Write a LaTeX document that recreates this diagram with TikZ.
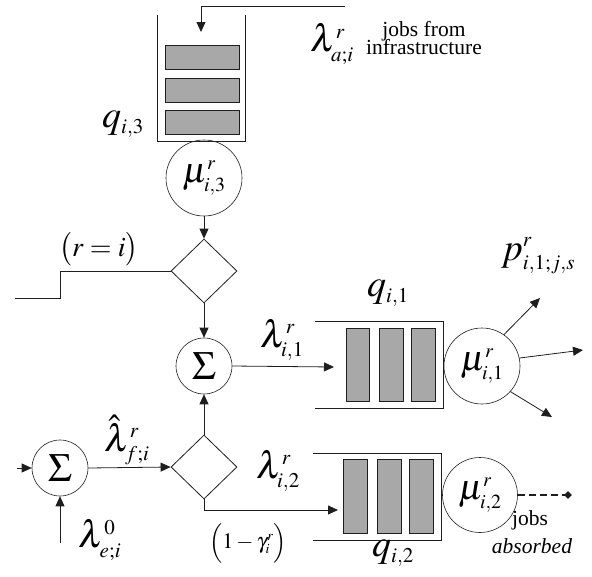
\documentclass[tikz,border=0pt]{standalone}
\usepackage{mathptmx}
\usepackage[no-math]{fontspec}
\setmainfont{Liberation Serif}
\usetikzlibrary{arrows.meta,shapes.geometric}
\DeclareMathSizes{40}{40}{22}{16}
\DeclareMathSizes{38}{38}{21}{15}
\DeclareMathSizes{36}{36}{20}{14}
\DeclareMathSizes{28}{28}{16}{12}
\DeclareMathSizes{22}{22}{14}{10}
\definecolor{jobgray}{RGB}{168,168,168}
\definecolor{ink}{RGB}{30,30,30}
\begin{document}
\begin{tikzpicture}[x=1pt,y=-1pt,
  ln/.style={line width=0.8pt, draw=ink},
  arr/.style={ln, -{Triangle[length=10pt,width=9pt]}},
  circ/.style={circle, draw=ink, line width=0.6pt, minimum size=76pt, inner sep=0pt, font=\fontsize{36}{38}\selectfont},
  sig/.style={circle, draw=ink, line width=0.6pt, minimum size=56pt, inner sep=0pt, font=\fontsize{40}{42}\selectfont},
  dia/.style={diamond, draw=ink, line width=0.8pt, minimum width=66pt, minimum height=64pt, inner sep=0pt},
  job/.style={rectangle, draw=ink, fill=jobgray, line width=0.7pt, inner sep=0pt},
  big/.style={font=\fontsize{38}{40}\selectfont, inner sep=0pt},
  txt/.style={font=\fontsize{21.5}{22}\selectfont, align=center, inner sep=0pt}
]
\useasboundingbox (0,0) rectangle (592,576);

% ---- top queue q_{i,3}
\draw[ln, line width=0.7pt] (157,15) -- (157,141) -- (245,141) -- (245,15);
\node[job, minimum width=74pt, minimum height=24pt] (j31) at (202,57) {};
\node[job, minimum width=74pt, minimum height=24pt] (j32) at (202,90) {};
\node[job, minimum width=74pt, minimum height=24pt] (j33) at (202,122.5) {};
\coordinate (inA) at (345,6);
\coordinate (q3in) at (201,32);
\draw[arr] (inA) -| (q3in);
\node[big] (la) at (332,44) {$\lambda^r_{a;i}$};
\node[txt] (jf) at (424,38) {jobs from\\[-4pt]infrastructure};
\node[big] (q3) at (123,124) {$q_{i,3}$};

% ---- column
\node[circ] (mu3) at (204,178) {$\mu^r_{i,3}$};
\node[dia] (d1) at (204,271) {};
\node[sig] (s1) at (204,366) {$\Sigma$};
\draw[arr] (mu3) -- (d1.north);
\draw[arr] (d1.south) -- (s1.north);
\coordinate (c1) at (15,298);
\draw[ln] (d1.west) -- (60,271) |- (c1);
\node[font=\fontsize{28}{30}\selectfont, inner sep=0pt] (ri) at (99,249) {$\bigl(r=i\bigr)$};

% ---- queue 1
\draw[ln, line width=0.7pt] (315,321) -- (443,321) -- (443,408) -- (315,408);
\node[job, minimum width=23pt, minimum height=73pt] (j11) at (357.5,364.5) {};
\node[job, minimum width=24pt, minimum height=73pt] (j12) at (391,364.5) {};
\node[job, minimum width=24pt, minimum height=73pt] (j13) at (423,364.5) {};
\coordinate (q1in) at (334,367);
\draw[arr] (s1.east) -- (q1in);
\node[big] (l1) at (282,340) {$\lambda^r_{i,1}$};
\node[big] (q1) at (388,293) {$q_{i,1}$};
\node[circ] (mu1) at (482,366) {$\mu^r_{i,1}$};
\coordinate (o1) at (540,298);
\coordinate (o2) at (583,350);
\coordinate (o3) at (552,417);
\draw[arr] (mu1.55) -- (o1);
\draw[arr] (mu1.12) -- (o2);
\draw[arr] (mu1.-42) -- (o3);
\node[big] (p) at (538,256) {$p^r_{i,1;j,s}$};

% ---- lower part
\node[sig] (s2) at (60,468) {$\Sigma$};
\node[dia] (d2) at (204,467) {};
\coordinate (ein) at (17,468);
\coordinate (ebot) at (60,543);
\draw[arr] (ein) -- (s2.west);
\draw[arr] (ebot) -- (s2.south);
\draw[arr] (s2.east) -- (d2.west);
\draw[arr] (d2.north) -- (s1.south);
\node[big] (lf) at (127,440) {$\hat\lambda^r_{f;i}$};
\node[big] (le) at (100,540) {$\lambda^0_{e;i}$};

% ---- queue 2
\draw[ln, line width=0.7pt] (313,453) -- (441,453) -- (441,540) -- (313,540);
\node[job, minimum width=24pt, minimum height=74pt] (j21) at (355,496) {};
\node[job, minimum width=24pt, minimum height=74pt] (j22) at (389,496) {};
\node[job, minimum width=24pt, minimum height=74pt] (j23) at (421,496) {};
\coordinate (q2in) at (338,510);
\draw[arr] (d2.south) |- (q2in);
\node[big] (l2) at (278,471) {$\lambda^r_{i,2}$};
\node[font=\fontsize{22}{24}\selectfont, inner sep=0pt] (g) at (248,543) {$\Bigl(1-\gamma^r_i\Bigr)$};
\node[big] (q2) at (393,553) {$q_{i,2}$};
\node[circ, minimum size=75pt] (mu2) at (480,495) {$\mu^r_{i,2}$};
\coordinate (ab) at (568,495);
\draw[ln, dashed, dash pattern=on 7pt off 4pt, line width=1.2pt] (mu2.east) -- (ab);
\node[diamond, fill=ink, inner sep=0pt, minimum size=8pt] (abd) at (ab) {};
\node[txt] (jobs) at (530,520) {jobs};
\node[txt, font=\fontsize{21.5}{22}\selectfont\itshape] (abs) at (532,546) {absorbed};
\end{tikzpicture}
\end{document}
